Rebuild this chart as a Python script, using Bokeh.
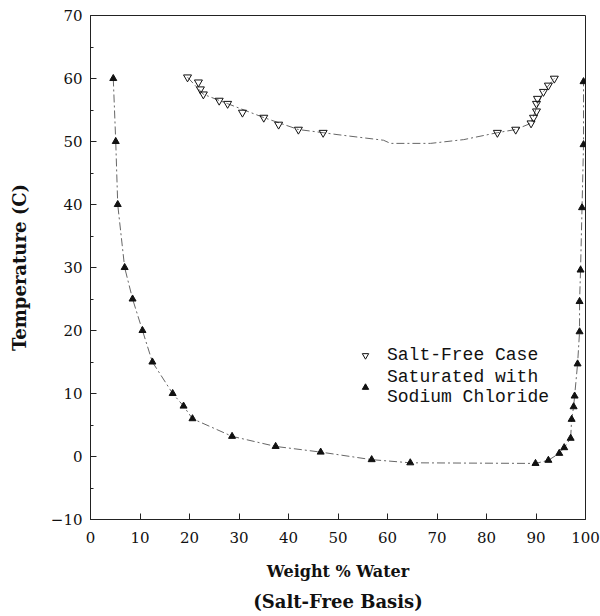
from bokeh.plotting import figure
from bokeh.models import Range1d, Legend, LegendItem, Title, FixedTicker
from bokeh.embed import file_html
from bokeh.resources import INLINE

# Salt-free case (open inverted triangles)
sf_x = [19.6, 21.8, 22.2, 22.8, 26.0, 27.7, 30.7, 35.0, 38.0, 42.0, 47.0,
        82.2, 85.9, 89.0, 89.5, 90.1, 90.1, 90.3, 91.5, 92.5, 93.7]
sf_y = [60.2, 59.4, 58.3, 57.5, 56.5, 56.0, 54.6, 53.8, 52.7, 51.9, 51.4,
        51.4, 51.9, 52.9, 53.8, 54.8, 56.0, 56.8, 57.9, 58.9, 60.0]

# fitted curve through the salt-free case
sf_curve_x = [19.6, 22.8, 27.7, 35.0, 42.0, 47.0, 49.8, 59.2, 60.6, 68.7, 75.4, 82.2, 85.9, 89.0, 90.1, 91.5, 93.7]
sf_curve_y = [60.2, 57.5, 56.0, 53.8, 51.9, 51.4, 51.1, 50.2, 49.7, 49.7, 50.3, 51.4, 51.9, 52.9, 55.4, 57.9, 60.0]

# Saturated with sodium chloride (filled triangles)
na_x = [4.6, 5.1, 5.5, 6.9, 8.5, 10.5, 12.5, 16.6, 18.8, 20.6, 28.6, 37.4, 46.5, 56.8, 64.6,
        89.9, 92.5, 94.7, 95.7, 97.0, 97.2, 97.6, 97.8, 98.4, 98.8, 98.8, 99.0, 99.3, 99.6, 99.6]
na_y = [60, 50, 40, 30, 25, 20, 15, 10, 8, 6, 3.2, 1.6, 0.7, -0.5, -1.0,
        -1.1, -0.6, 0.5, 1.4, 2.9, 5.9, 7.9, 9.6, 14.7, 19.8, 24.6, 29.6, 39.5, 49.5, 59.5]

x_ticks = [0, 10, 20, 30, 40, 50, 60, 70, 80, 90, 100]
y_ticks = [-10, 0, 10, 20, 30, 40, 50, 60, 70]
y_minor = [-5, 5, 15, 25, 35, 45, 55, 65]

p = figure(width=600, height=616, output_backend="svg", toolbar_location=None,
           x_range=Range1d(0, 100), y_range=Range1d(-10, 70),
           min_border_left=90, min_border_right=15, min_border_top=15, min_border_bottom=10)
p.background_fill_color = "white"
p.border_fill_color = "white"
p.grid.visible = False
p.outline_line_color = "#222222"
p.outline_line_width = 1

serif = "DejaVu Serif"
for ax in (p.xaxis[0], p.yaxis[0]):
    ax.major_label_text_font = serif
    ax.major_label_text_font_size = "15px"
    ax.major_label_text_color = "#111111"
    ax.axis_label_text_font = serif
    ax.axis_label_text_font_style = "bold"
    ax.axis_label_text_color = "#111111"
    ax.axis_line_color = "#222222"
    ax.major_tick_in = 6
    ax.major_tick_out = 0
    ax.minor_tick_in = 3
    ax.minor_tick_out = 0
    ax.major_tick_line_color = "#222222"
    ax.minor_tick_line_color = "#222222"

p.xaxis.ticker = FixedTicker(ticks=x_ticks)
p.yaxis.ticker = FixedTicker(ticks=y_ticks, minor_ticks=y_minor)
p.xaxis.major_label_standoff = 12
p.yaxis.major_label_standoff = 8
p.xaxis.axis_label = "Weight % Water"
p.xaxis.axis_label_text_font_size = "16px"
p.xaxis.axis_label_standoff = 16
p.yaxis.axis_label = "Temperature (C)"
p.yaxis.axis_label_text_font_size = "18px"
p.yaxis.axis_label_standoff = 18

sub = Title(text="(Salt-Free Basis)", align="center", text_font=serif,
            text_font_style="bold", text_font_size="18px", text_color="#111111")
p.add_layout(sub, "below")

# curves
p.line(sf_curve_x, sf_curve_y, line_color="#666666", line_width=1, line_dash="8 3 2 3")
p.line(na_x, na_y, line_color="#666666", line_width=1, line_dash="8 3 2 3")

r_sf = p.scatter(sf_x, sf_y, marker="inverted_triangle", size=8,
                 fill_color=None, line_color="#111111", line_width=1)
r_na = p.scatter(na_x, na_y, marker="triangle", size=7,
                 fill_color="#111111", line_color="#111111")

legend = Legend(items=[LegendItem(label="Salt-Free Case", renderers=[r_sf]),
                       LegendItem(label="Saturated with\nSodium Chloride", renderers=[r_na])],
                location=(267, 112))
legend.label_text_font = "Liberation Mono"
legend.label_text_font_size = "18px"
legend.label_text_color = "#111111"
legend.label_text_line_height = 1.5
legend.border_line_color = None
legend.background_fill_alpha = 0
legend.glyph_width = 16
legend.label_standoff = 14
legend.spacing = 2
legend.padding = 0
p.add_layout(legend, "center")

open("out.html", "w").write(file_html(p, INLINE))
